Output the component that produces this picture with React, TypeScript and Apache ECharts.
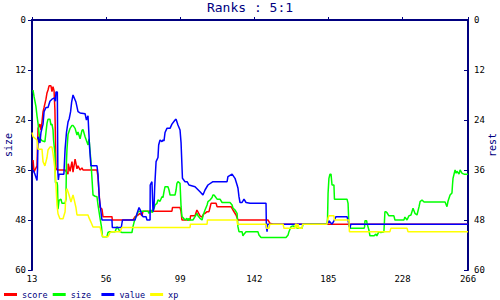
import React, { useEffect, useRef } from "react";
import * as echarts from "echarts";

const title = "Ranks : 5:1";
const seriesNames = ["score", "size", "value", "xp"];
const seriesColors = ["#ff0000", "#00ff00", "#0000ff", "#ffff00"];
const xTicks = [13, 56, 99, 142, 185, 228, 266];

const score: number[][] = [
  [13.6, 33.6], [14.2, 36.5], [14.7, 36], [15.9, 35], [16.5, 26], [17.6, 25], [18.2, 26.4], [18.8, 24.5],
  [19.4, 22], [20, 21], [21.1, 19], [21.7, 17.5], [22.3, 16.8], [22.9, 15.8], [24, 15.8], [24.6, 17.2],
  [25.2, 16], [25.8, 17], [26.3, 21.6], [26.9, 35.5], [27.5, 36], [32.2, 36], [33.9, 37], [34, 34.5],
  [35.1, 36.3], [36.2, 34], [36.8, 36.5], [38, 33.4], [39.1, 35.7], [39.7, 35], [40.9, 36], [42, 35.5],
  [42.6, 36], [50.7, 36], [51.3, 37.7], [52.5, 45], [53.6, 45.4], [54.2, 47.2], [59.4, 47.2], [59.6, 48],
  [71.6, 48], [72.8, 47.2], [73.9, 47], [75.7, 46.4], [76.8, 47], [77.4, 45.9], [94.2, 45.9], [94.5, 45],
  [98.9, 45], [99.5, 46], [100, 48], [104.7, 48], [105, 47], [107.6, 47], [108.7, 45.6], [110.5, 47],
  [111.7, 47.3], [112.5, 46.6], [113.4, 46.4], [114.6, 46], [115.7, 46], [116.3, 45], [116.9, 44],
  [119.8, 44], [120.4, 44.8], [128.5, 44.8], [129.6, 45.6], [131.4, 46.8], [132.5, 48], [149.9, 48],
  [151.1, 48.8], [153, 49], [197.5, 49], [266, 49],
];

const size: number[][] = [
  [13.6, 16.8], [14.2, 18.4], [15.3, 20.8], [15.9, 23], [16.5, 24.8], [17.1, 27.2], [17.6, 28.4], [18.8, 29],
  [20.5, 29.2], [21.1, 27], [21.7, 24.8], [22.3, 23.8], [23.4, 23.8], [24, 25.2], [24.6, 25], [25.2, 26.4],
  [25.5, 28.8], [26.3, 32], [26.6, 39], [27.5, 39], [27.8, 39.7], [28.1, 45.4], [28.7, 43.3], [29.8, 43],
  [30.4, 44], [32.2, 44], [32.7, 43], [33, 34], [33.3, 31], [33.9, 27.5], [35.1, 26], [36.2, 25.3],
  [36.8, 25.3], [38, 26], [39.1, 27.6], [39.7, 26.9], [40.9, 28.5], [42, 26.5], [42.6, 26.3], [43.8, 28],
  [44.9, 29.3], [45.5, 30], [46.1, 28.5], [47.2, 34], [47.8, 38], [48.4, 42], [49.6, 42.3], [50.7, 42.4],
  [51.3, 44.4], [52.5, 47.6], [53.3, 49.6], [53.9, 52], [56.5, 52], [57.1, 51], [58, 50.8], [61.2, 50.8],
  [62.3, 49.6], [62.9, 50], [64.1, 50.8], [65.2, 51], [71, 51], [71.6, 49.6], [72.8, 47.6], [73.9, 46.8],
  [74.5, 46], [75.7, 45.9], [80.3, 45.9], [80.9, 46.4], [82.1, 45.6], [82.6, 46.2], [83.2, 46], [84.4, 44.4],
  [85.5, 44], [86.1, 43.2], [87.3, 43.5], [88.4, 42.4], [89, 42.6], [89.6, 41.2], [90.2, 40], [91.9, 40],
  [92.5, 40.8], [93.1, 42], [96, 42], [96.6, 40.8], [97.1, 39.2], [97.7, 38.8], [98.9, 39.2], [99.5, 44.8],
  [100, 47.2], [100.6, 47.4], [101.8, 48], [102.9, 47.6], [103.5, 48.2], [104.1, 47.6], [104.7, 48],
  [106.4, 48], [107.6, 47.2], [108.7, 46.4], [109.3, 47], [110.5, 47.6], [111.7, 48], [112.2, 47],
  [113.4, 45.6], [114.6, 44.4], [115.1, 43.6], [116.3, 43.2], [117.5, 42.6], [118, 42], [118.6, 42],
  [119.2, 42.3], [120.4, 43], [122.1, 43], [123.3, 43.8], [127.9, 43.8], [129.1, 44.4], [129.6, 45.1],
  [130.8, 45.6], [132, 46.4], [132.5, 49.6], [133.1, 50.8], [134.9, 50.8], [135.4, 51.8], [136, 51.4],
  [137.2, 50.8], [144.1, 50.8], [144.7, 51.6], [145.9, 52.2], [160.4, 52.2], [161.6, 51.6], [162.1, 50.8],
  [163.3, 49.6], [164.5, 49.4], [165, 49.6], [166.2, 49.4], [166.8, 50], [169.7, 50], [170.3, 49],
  [184.2, 49], [184.5, 47.6], [184.8, 41.6], [185.3, 38], [185.9, 37], [186.5, 37], [187.1, 39.6],
  [188.2, 39.6], [188.5, 43], [195.8, 43], [196.4, 44], [196.9, 49.2], [197.5, 50], [205.7, 50],
  [206, 49.6], [206.2, 48.2], [207.2, 48.2], [207.4, 48.8], [208.5, 50.4], [209.1, 51.8], [211.4, 51.8],
  [212.6, 51.4], [213.1, 51.8], [214.3, 50.8], [215.4, 51], [217.2, 50.8], [217.8, 46], [218.4, 46],
  [218.9, 46.2], [220.1, 47], [223, 47], [223.6, 48], [228.8, 48], [229.4, 47.3], [230.6, 48], [231.7, 47],
  [232.9, 46.8], [234.1, 45.2], [235.2, 46.4], [236.4, 46.8], [237.6, 44.8], [238.2, 43.6], [239.3, 43.2],
  [240.5, 43.7], [252.7, 43.7], [253.8, 44.8], [254.4, 43.5], [255.6, 42], [256.7, 41.5], [257, 39.6],
  [257.3, 38], [258.5, 36], [259.1, 36.8], [259.6, 36.3], [260.8, 37], [261.4, 36], [262.6, 36.8],
  [263.7, 37], [266, 37],
];

const value: number[][] = [
  [13.6, 36], [14.7, 37], [15.9, 38.5], [16.2, 36], [16.5, 28], [17.6, 29.5], [18.2, 27], [19.4, 25],
  [20, 22], [21.1, 21], [22.3, 21], [23.4, 19.5], [24.6, 19], [26, 18.7], [26.6, 19.5], [26.9, 17.3],
  [27.7, 17.3], [28, 36.5], [28.3, 38.4], [28.7, 37], [31.5, 37], [32.2, 31], [33, 27], [33.9, 24.5],
  [34.6, 23.7], [35.4, 22], [36, 19.7], [36.8, 18], [38.5, 19.7], [39.7, 22], [40.9, 22.3], [43.8, 22.5],
  [44.6, 24], [45.5, 23], [46.4, 30.5], [47.2, 35], [50.7, 35], [51.3, 37], [52, 42.5], [53.6, 48],
  [59.4, 48], [59.6, 49.8], [64.8, 49.8], [65.5, 48], [72.8, 48], [73.9, 46.5], [75.1, 45], [75.7, 45.5],
  [76.8, 46.8], [77.4, 47.2], [79.2, 47.2], [79.7, 48], [81.5, 48], [81.6, 39.6], [82.6, 38.8], [83.2, 46],
  [83.8, 45], [84.2, 40], [85, 34], [86.1, 33], [86.5, 30], [87.3, 28.8], [88.4, 29.2], [89, 28.8],
  [89.6, 29], [90.2, 27], [91.3, 26], [93.1, 26], [94.2, 25], [96, 24], [96.6, 23.8], [97.7, 25.2],
  [98.9, 26.4], [99.5, 29.5], [100.3, 38], [101.8, 38.8], [103, 38.8], [104.1, 39.6], [107.6, 40],
  [110.5, 41.2], [112.2, 42], [113.4, 40.8], [115.1, 39.6], [118, 38.8], [126.2, 38.8], [126.7, 37.6],
  [129.1, 37], [130.8, 38], [132, 39.6], [132.5, 40.3], [133.1, 42.4], [133.7, 43.8], [134.9, 43.8],
  [136, 43], [137.2, 43.8], [139.5, 44], [148.8, 44], [149, 49.6], [149.4, 50.8], [149.7, 49],
  [184.2, 49], [185.3, 48.2], [187.1, 49], [188.2, 48.2], [189.4, 47.2], [195.8, 47.2], [196.9, 49],
  [197.5, 50], [198, 49], [266, 49],
];

const xp: number[][] = [
  [13, 27], [13.6, 28], [15.9, 28.8], [16.5, 31], [18.8, 31], [19.4, 34], [20.5, 35], [21.7, 33],
  [22.3, 31.2], [23.4, 30.5], [24.6, 30.5], [25.2, 32], [26.3, 35.8], [26.9, 39.6], [27.5, 44.4],
  [28.1, 46.5], [29.2, 47.7], [31, 47.7], [32.2, 46], [32.7, 41.3], [33.3, 40.5], [34.5, 42], [35.6, 43.7],
  [36.8, 42], [37.4, 43], [38.5, 45], [39.1, 46.8], [45.5, 46.8], [46.1, 47.5], [47.2, 48.5], [48.4, 49.7],
  [52.5, 49.7], [53.6, 51.6], [54.2, 52], [57.1, 52], [58.3, 51], [59.4, 50.8], [64.1, 50.8], [65.2, 49.8],
  [104.7, 49.8], [104.9, 49], [114.6, 49], [114.8, 48], [132, 48], [132.2, 49], [148.8, 49], [149.2, 50],
  [150.5, 50], [151, 49], [158.7, 49], [159.2, 50], [165.6, 50], [165.9, 49], [166.5, 49], [166.8, 50],
  [167.2, 50], [167.4, 49], [167.9, 50], [169.7, 50], [170, 49], [184.2, 49], [184.8, 47.5], [185.3, 47],
  [188.2, 47], [188.5, 48], [196.9, 48], [197.2, 50.8], [220.7, 50.8], [221.2, 50], [230.6, 50],
  [231.2, 50.8], [266, 50.8],
];

const seriesData = [score, size, value, xp];

const NAVY = "#000080";
const MONO = "DejaVu Sans Mono";

export default function App() {
  const ref = useRef<HTMLDivElement>(null);
  useEffect(() => {
    if (!ref.current) return;
    const chart = echarts.init(ref.current, null, { renderer: "svg" });
    const yAxisBase = (pos: "left" | "right", name: string) => ({
      type: "value",
      position: pos,
      min: 0,
      max: 60,
      interval: 12,
      inverse: true,
      name,
      nameLocation: "middle",
      nameGap: 19,
      nameRotate: 90,
      nameMoveOverlap: false,
      nameTextStyle: { color: NAVY, fontFamily: MONO, fontSize: 10 },
      axisLine: { show: true, lineStyle: { color: NAVY, width: 2 } },
      axisTick: { show: true, inside: pos === "right", length: 4, lineStyle: { color: NAVY, width: 1 } },
      axisLabel: { color: "#000", fontFamily: MONO, fontSize: 9, margin: 6 },
      splitLine: { show: false },
    });
    chart.setOption({
      animation: false,
      backgroundColor: "#fff",
      title: {
        text: title,
        left: "center",
        top: 1,
        padding: 0,
        textStyle: { color: NAVY, fontFamily: MONO, fontSize: 13, fontWeight: "normal" },
      },
      legend: {
        data: seriesNames,
        left: 4,
        top: 290,
        padding: 0,
        icon: "rect",
        itemWidth: 13,
        itemHeight: 3,
        itemGap: 0,
        formatter: (name: string) => name.padEnd(6, " "),
        textStyle: { color: NAVY, fontFamily: MONO, fontSize: 8.5 },
      },
      grid: {
        left: 32,
        right: 32,
        top: 20,
        bottom: 30,
        containLabel: false,
        outerBoundsMode: "none",
      },
      xAxis: {
        type: "value",
        min: 13,
        max: 266,
        axisLine: { show: true, lineStyle: { color: NAVY, width: 2 } },
        axisTick: { show: true, inside: true, length: 3, customValues: xTicks, lineStyle: { color: NAVY } },
        axisLabel: { color: "#000", fontFamily: MONO, fontSize: 9, margin: 4, customValues: xTicks },
        splitLine: { show: false },
      },
      yAxis: [yAxisBase("left", "size"), yAxisBase("right", "rest")],
      series: seriesNames.map((n, i) => ({
        name: n,
        type: "line",
        data: seriesData[i],
        showSymbol: false,
        symbol: "none",
        color: seriesColors[i],
        lineStyle: { color: seriesColors[i], width: 1.5 },
      })),
    });
    return () => chart.dispose();
  }, []);
  return <div ref={ref} style={{ position: "fixed", left: 0, top: 0, width: 500, height: 300 }} />;
}
